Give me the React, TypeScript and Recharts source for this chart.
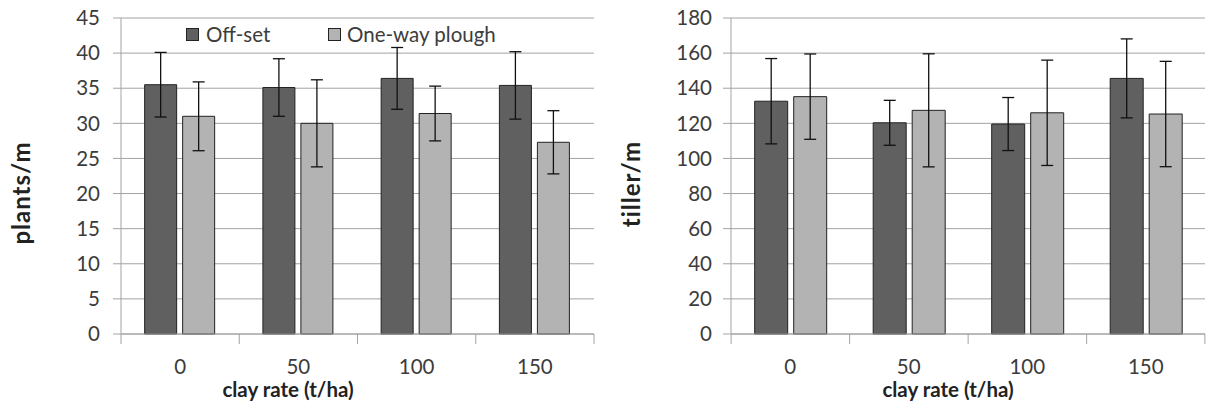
import React from 'react';
import { BarChart, Bar, XAxis, YAxis, CartesianGrid, ErrorBar } from 'recharts';

// clay rate categories (t/ha)
const clayRates = ['0', '50', '100', '150'];

// plants per metre
const plantsOffset = [35.5, 35.1, 36.4, 35.4];
const plantsOffsetErr = [4.6, 4.1, 4.4, 4.8];
const plantsOneWay = [31.0, 30.0, 31.4, 27.3];
const plantsOneWayErr = [4.9, 6.2, 3.9, 4.5];
const plantsTicks = [0, 5, 10, 15, 20, 25, 30, 35, 40, 45];

// tillers per metre
const tillerOffset = [132.6, 120.3, 119.6, 145.6];
const tillerOffsetErr = [24.3, 12.8, 15.1, 22.5];
const tillerOneWay = [135.2, 127.4, 126.0, 125.3];
const tillerOneWayErr = [24.3, 32.2, 30.0, 30.0];
const tillerTicks = [0, 20, 40, 60, 80, 100, 120, 140, 160, 180];

const seriesNames = ['Off-set', 'One-way plough'];

const DARK = '#606060';
const LIGHT = '#b3b3b3';
const GRID = '#a3a3a3';
const TEXT = '#3c3c3c';
const FONT = 'Lato, "Open Sans", sans-serif';
const TICK_SIZE = 20.5;
const PLOT_W = 473;

const plantsData = clayRates.map((c, i) => ({
  rate: c,
  offset: plantsOffset[i],
  offsetErr: plantsOffsetErr[i],
  oneway: plantsOneWay[i],
  onewayErr: plantsOneWayErr[i],
}));

const tillerData = clayRates.map((c, i) => ({
  rate: c,
  offset: tillerOffset[i],
  offsetErr: tillerOffsetErr[i],
  oneway: tillerOneWay[i],
  onewayErr: tillerOneWayErr[i],
}));

// labels sit in the middle of each band, tick marks on the band edges
const ClayTick = (props: any) => {
  const { x, y, payload, index } = props;
  const band = PLOT_W / clayRates.length;
  const left = x - band / 2;
  return (
    <g>
      <line x1={left} x2={left} y1={y} y2={y + 10} stroke={GRID} />
      {index === clayRates.length - 1 && (
        <line x1={x + band / 2} x2={x + band / 2} y1={y} y2={y + 10} stroke={GRID} />
      )}
      <text x={x} y={y + 32} textAnchor="middle" dominantBaseline="central" fontSize={TICK_SIZE} fill={TEXT} fontFamily={FONT}>
        {payload.value}
      </text>
    </g>
  );
};

// legend drawn over the plot so it does not shrink it
const LegendBox = () => (
  <div
    style={{
      position: 'absolute',
      left: 186,
      top: 22,
      display: 'flex',
      alignItems: 'center',
      fontFamily: FONT,
      fontSize: TICK_SIZE,
      color: TEXT,
      lineHeight: '24px',
    }}
  >
    <span style={{ width: 11, height: 11, background: DARK, border: '1px solid #222', marginRight: 7 }} />
    <span style={{ width: 122 }}>{seriesNames[0]}</span>
    <span style={{ width: 11, height: 11, background: LIGHT, border: '1px solid #222', marginRight: 6 }} />
    <span>{seriesNames[1]}</span>
  </div>
);

const axisTitle = (text: string, x: number, y: number, rotate: boolean, size: number, spacing = 0) => (
  <div
    style={{
      position: 'absolute',
      left: x,
      top: y,
      transform: `translate(-50%, -50%)${rotate ? ' rotate(-90deg)' : ''}`,
      whiteSpace: 'nowrap',
      fontFamily: FONT,
      fontWeight: 700,
      fontSize: size,
      letterSpacing: spacing,
      lineHeight: 1,
      color: '#222',
    }}
  >
    {text}
  </div>
);

interface PanelProps {
  data: any[];
  ticks: number[];
  axisWidth: number;
  width: number;
  right: number;
  tickGap: number;
}

const Panel: React.FC<PanelProps> = ({ data, ticks, axisWidth, width, right, tickGap }) => (
  <BarChart
    width={width}
    height={405}
    data={data}
    margin={{ top: 18, right, bottom: 0, left: 0 }}
    barCategoryGap="20%"
    barGap={6}
  >
    <CartesianGrid vertical={false} stroke={GRID} />
    <XAxis
      dataKey="rate"
      height={71}
      axisLine={{ stroke: GRID }}
      tickLine={false}
      tickSize={0}
      tickMargin={0}
      tick={<ClayTick />}
      interval={0}
    />
    <YAxis
      width={axisWidth}
      domain={[0, ticks[ticks.length - 1]]}
      ticks={ticks}
      interval={0}
      axisLine={{ stroke: GRID }}
      tickLine={{ stroke: GRID }}
      tickSize={8}
      tickMargin={tickGap}
      tick={{ fontSize: TICK_SIZE, fill: TEXT, fontFamily: FONT }}
    />
    <Bar dataKey="offset" name={seriesNames[0]} fill={DARK} stroke="#222" strokeWidth={1} isAnimationActive={false}>
      <ErrorBar dataKey="offsetErr" width={6} stroke="#111" strokeWidth={1.3} direction="y" />
    </Bar>
    <Bar dataKey="oneway" name={seriesNames[1]} fill={LIGHT} stroke="#222" strokeWidth={1} isAnimationActive={false}>
      <ErrorBar dataKey="onewayErr" width={6} stroke="#111" strokeWidth={1.3} direction="y" />
    </Bar>
  </BarChart>
);

export default function App() {
  return (
    <div style={{ position: 'absolute', left: 0, top: 0, width: 1209, height: 405, background: '#fff', overflow: 'hidden' }}>
      <div style={{ position: 'absolute', left: 0, top: 0 }}>
        <Panel data={plantsData} ticks={plantsTicks} axisWidth={121} width={600} right={6} tickGap={13} />
      </div>
      <div style={{ position: 'absolute', left: 600, top: 0 }}>
        <Panel data={tillerData} ticks={tillerTicks} axisWidth={131} width={609} right={4} tickGap={11} />
      </div>
      <LegendBox />
      {axisTitle('plants/m', 21, 193, true, 24, 1)}
      {axisTitle('tiller/m', 631, 184, true, 24, 1)}
      {axisTitle('clay rate (t/ha)', 288, 389, false, 20.5)}
      {axisTitle('clay rate (t/ha)', 948, 389, false, 20.5)}
    </div>
  );
}
